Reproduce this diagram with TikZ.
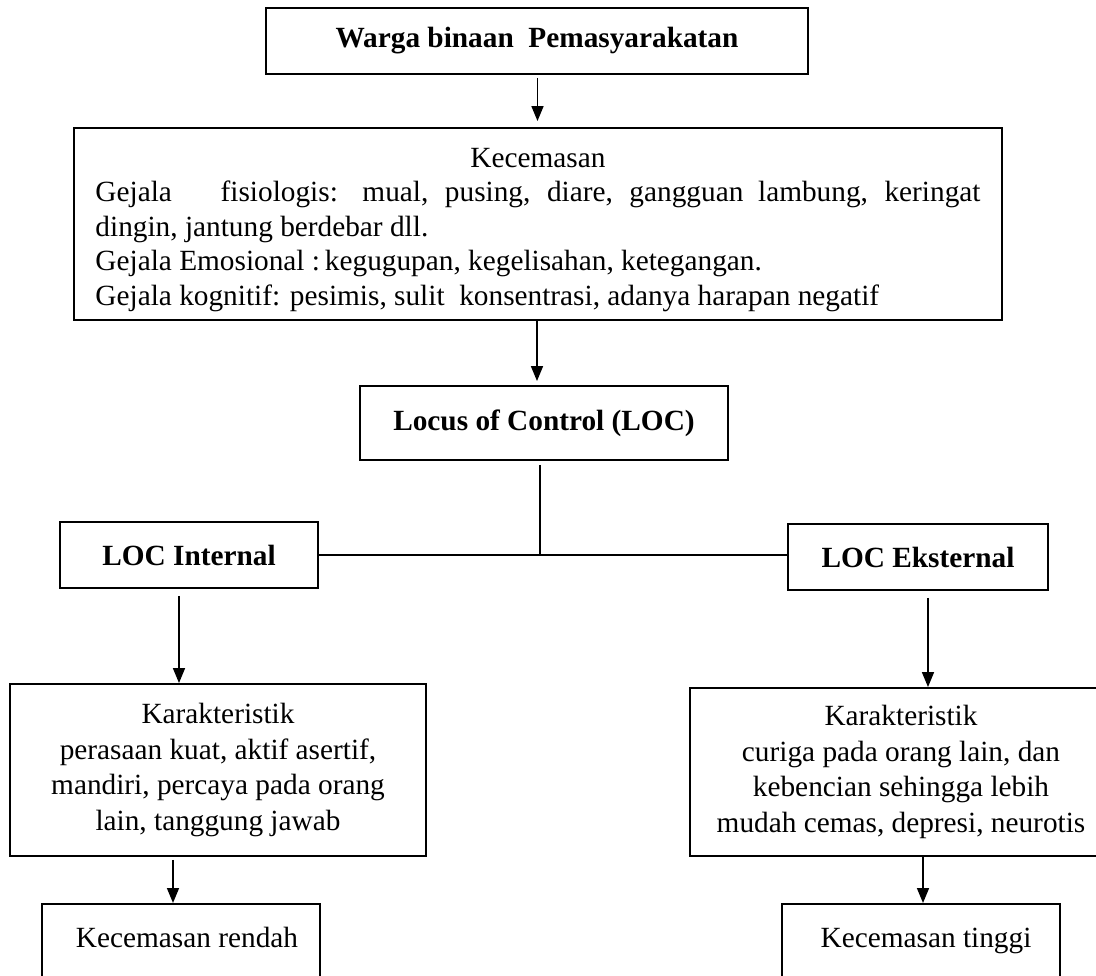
\documentclass[tikz,border=0pt]{standalone}
\usepackage{fontspec}
\setmainfont{Liberation Serif}
\usetikzlibrary{arrows.meta}
\tikzset{
  plainbox/.style={draw, line width=1.9bp, inner sep=0pt, font=\fontsize{29.3bp}{34.5bp}\selectfont},
  box/.style={plainbox, align=center, font=\fontsize{29.3bp}{35.5bp}\selectfont},
  bbox/.style={box, font=\fontsize{29.3bp}{35bp}\selectfont\bfseries},
  arr/.style={line width=1.6bp, -{Triangle[width=12bp,length=15bp]}},
  conn/.style={line width=1.7bp}
}
\begin{document}
\begin{tikzpicture}[x=1bp,y=-1bp]
\useasboundingbox (0,0) rectangle (1096,976);
\node[bbox, minimum width=542bp, minimum height=66bp] (wbp) at (537,41) {Warga binaan\ \ Pemasyarakatan};
\node[plainbox, minimum width=928bp, minimum height=192bp] (kec) at (538,224) {\parbox{885bp}{\vspace*{12bp}{\centering Kecemasan\par}Gejala\hspace{34bp} fisiologis: mual, pusing, diare, gangguan lambung, keringat\linebreak dingin, jantung berdebar dll.\\ Gejala Emosional :\,kegugupan, kegelisahan, ketegangan.\\ Gejala kognitif: pesimis, sulit\ \ konsentrasi, adanya harapan negatif}};
\node[bbox, minimum width=368bp, minimum height=74bp] (loc) at (544,423) {Locus of Control (LOC)};
\node[bbox, minimum width=258bp, minimum height=66bp] (lin) at (189,555) {LOC Internal};
\node[bbox, minimum width=260bp, minimum height=66bp] (lek) at (918,557) {LOC Eksternal};
\node[box, minimum width=416bp, minimum height=172bp] (karL) at (218,770) {Karakteristik\\ perasaan kuat, aktif asertif,\\ mandiri, percaya pada orang\\ lain, tanggung jawab};
\node[box, minimum width=422bp, minimum height=168bp] (karR) at (901,772) {Karakteristik\\ curiga pada orang lain, dan\\ kebencian sehingga lebih\\ mudah cemas, depresi, neurotis};
\node[box, anchor=north, minimum width=278bp, text height=44bp, text depth=60bp] (low) at (181,903) {\hspace*{12bp}Kecemasan rendah};
\node[box, anchor=north, minimum width=278bp, text height=44bp, text depth=60bp] (high) at (921,903) {\hspace*{10bp}Kecemasan tinggi};
\draw[arr, shorten <=3bp, shorten >=6bp] (wbp.south -| 537.5,0) -- (kec.north -| 537.5,0);
\draw[arr, shorten >=4bp] (kec.south -| 537,0) -- (loc.north -| 537,0);
\draw[conn, shorten <=4bp] (loc.south -| 540,0) -- (540,0 |- lin.east);
\draw[conn] (lin.east) -- (lek.west |- lin.east);
\draw[arr, shorten <=7bp] (lin.south -| 179,0) -- (karL.north -| 179,0);
\draw[arr, shorten <=7bp] (lek.south -| 928,0) -- (karR.north -| 928,0);
\draw[arr, shorten <=3bp] (karL.south -| 173,0) -- (low.north -| 173,0);
\draw[arr] (karR.south -| 923,0) -- (high.north -| 923,0);
\end{tikzpicture}
\end{document}
